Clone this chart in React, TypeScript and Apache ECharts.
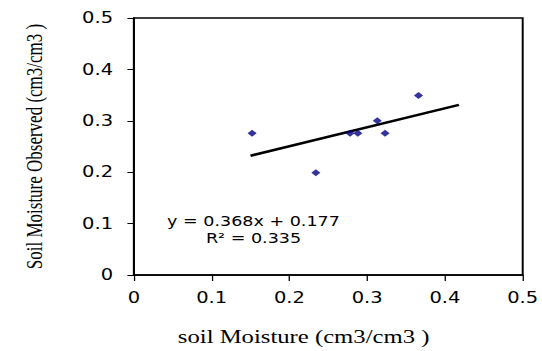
import React, { useEffect, useRef } from "react";
import * as echarts from "echarts";

// Observed vs. modelled soil moisture (cm3/cm3)
const xValues = [0.152, 0.234, 0.278, 0.288, 0.313, 0.323, 0.366];
const yValues = [0.276, 0.199, 0.276, 0.276, 0.3, 0.276, 0.349];
// Trend line end points as drawn
const trendX = [0.15, 0.418];
const trendY = [0.232, 0.331];
const tickLabels = ["0", "0.1", "0.2", "0.3", "0.4", "0.5"];
const equationLines = ["y = 0.368x + 0.177", "R² = 0.335"];
const xAxisTitle = "soil Moisture (cm3/cm3 )";
const yAxisTitle = "Soil Moisture Observed (cm3/cm3 )";

const STRETCH = 1.3; // the reference is stretched horizontally
const W = 417;
const H = 351;

export default function App() {
  const ref = useRef<HTMLDivElement>(null);
  useEffect(() => {
    if (!ref.current) return;
    const chart = echarts.init(ref.current, undefined, { renderer: "svg" });
    const fmt = (v: number) => tickLabels[Math.round(v * 10)] ?? String(v);
    const sans = "DejaVu Sans";
    const serif = "Liberation Serif";
    const axisCommon = {
      type: "value" as const,
      min: 0,
      max: 0.5,
      interval: 0.1,
      splitLine: { show: false },
      axisLine: { show: true, lineStyle: { color: "#000", width: 1.5 } },
      axisTick: { show: true, inside: false, lineStyle: { color: "#000", width: 1 } },
    };
    chart.setOption({
      animation: false,
      backgroundColor: "#fff",
      grid: {
        left: 103,
        right: 12.4,
        top: 18,
        bottom: 76,
        show: true,
        borderColor: "#000",
        borderWidth: 1.5,
      },
      xAxis: {
        ...axisCommon,
        axisTick: { ...axisCommon.axisTick, length: 6 },
        axisLabel: {
          margin: 15,
          formatter: fmt,
          color: "#000",
          fontFamily: sans,
          fontSize: 15,
        },
        name: xAxisTitle,
        nameLocation: "middle",
        nameGap: 52,
        nameTextStyle: {
          fontFamily: serif,
          fontSize: 19,
          color: "#000",
          padding: [0, 38, 0, 0],
        },
      },
      yAxis: {
        ...axisCommon,
        axisTick: { ...axisCommon.axisTick, length: 5 },
        axisLabel: {
          margin: 16,
          formatter: fmt,
          color: "#000",
          fontFamily: sans,
          fontSize: 15,
        },
        name: yAxisTitle,
        nameLocation: "middle",
        nameRotate: 90,
        nameGap: 68,
        nameTextStyle: {
          fontFamily: serif,
          fontSize: 17,
          color: "#000",
        },
      },
      series: [
        {
          type: "line",
          data: trendX.map((x, i) => [x, trendY[i]]),
          showSymbol: false,
          symbol: "none",
          lineStyle: { color: "#000", width: 2.5 },
          z: 2,
        },
        {
          type: "scatter",
          data: xValues.map((x, i) => [x, yValues[i]]),
          symbol: "diamond",
          symbolSize: [7, 7],
          itemStyle: { color: "#000080" },
          z: 3,
        },
      ],
      graphic: [
        {
          type: "text",
          x: 195,
          y: 213,
          style: {
            text: equationLines.join("\n"),
            align: "center",
            verticalAlign: "top",
            fontFamily: sans,
            fontSize: 13.5,
            lineHeight: 17,
            fill: "#000",
          },
        },
      ],
    });
    return () => chart.dispose();
  }, []);
  return (
    <div
      ref={ref}
      style={{
        position: "absolute",
        left: 0,
        top: 0,
        width: W,
        height: H,
        transform: `scaleX(${STRETCH})`,
        transformOrigin: "0 0",
      }}
    />
  );
}
